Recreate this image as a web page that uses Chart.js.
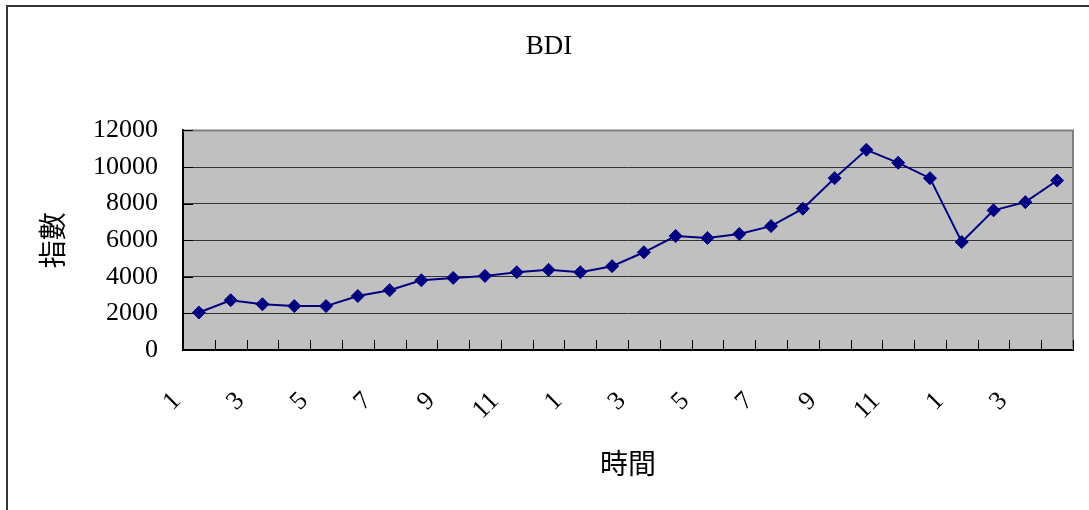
<!DOCTYPE html>
<html>
<head>
<meta charset="utf-8">
<title>BDI</title>
<script src="https://cdn.jsdelivr.net/npm/chart.js@4/dist/chart.umd.min.js"></script>
<style>
  html, body { margin: 0; padding: 0; background: #ffffff; }
  canvas { display: block; }
</style>
</head>
<body>
<canvas id="bdi" width="1089" height="510"></canvas>
<script>
// Month of each observation (three consecutive years, last one partial)
const months = ['1','2','3','4','5','6','7','8','9','10','11','12',
                '1','2','3','4','5','6','7','8','9','10','11','12',
                '1','2','3','4'];

// Baltic Dry Index, monthly level
const bdiValues = [2050, 2720, 2500, 2400, 2400, 2950, 3270, 3810, 3940, 4050, 4250, 4380,
                   4250, 4580, 5340, 6230, 6120, 6340, 6770, 7720, 9390, 10940, 10230, 9390,
                   5900, 7630, 8080, 9260];

const yMin = 0;
const yMax = 12000;
const yStep = 2000;

const titleText = 'BDI';
const yTitle = '指數';
const xTitle = '時間';

const serif = "'Liberation Serif', 'Times New Roman', 'Noto Sans CJK TC', serif";
const cjk = "'Noto Sans CJK TC', 'Noto Sans CJK SC', sans-serif";

// Grey plot background, outer frame, plot frame and inward tick marks
const framePlugin = {
  id: 'frame',
  beforeDraw(chart) {
    const { ctx, chartArea: a } = chart;
    ctx.save();
    ctx.fillStyle = '#ffffff';
    ctx.fillRect(0, 0, chart.width, chart.height);
    ctx.fillStyle = '#c0c0c0';
    ctx.fillRect(a.left, a.top, a.right - a.left, a.bottom - a.top);
    ctx.restore();
  },
  beforeDatasetsDraw(chart) {
    const { ctx, chartArea: a, scales } = chart;
    const x = scales.x, y = scales.y;
    ctx.save();
    // plot frame: grey top and right edges
    ctx.strokeStyle = '#808080';
    ctx.lineWidth = 2;
    ctx.beginPath();
    ctx.moveTo(a.left, a.top);
    ctx.lineTo(a.right, a.top);
    ctx.lineTo(a.right, a.bottom);
    ctx.stroke();
    // inward ticks
    ctx.strokeStyle = '#000000';
    ctx.lineWidth = 1;
    ctx.beginPath();
    const n = months.length;
    for (let i = 0; i <= n; i++) {
      let px;
      if (i === 0) px = a.left;
      else if (i === n) px = a.right;
      else px = (x.getPixelForValue(i - 1) + x.getPixelForValue(i)) / 2;
      px = Math.round(px) + 0.5;
      ctx.moveTo(px, a.bottom);
      ctx.lineTo(px, a.bottom - 10);
    }
    for (let v = yMin; v <= yMax; v += yStep) {
      const py = Math.round(y.getPixelForValue(v)) + 0.5;
      ctx.moveTo(a.left, py);
      ctx.lineTo(a.left + 10, py);
    }
    ctx.stroke();
    ctx.restore();
  },
  afterDraw(chart) {
    const { ctx } = chart;
    ctx.save();
    ctx.strokeStyle = '#333333';
    ctx.lineWidth = 2;
    ctx.beginPath();
    ctx.moveTo(7, chart.height);
    ctx.lineTo(7, 6);
    ctx.lineTo(chart.width, 6);
    ctx.stroke();
    ctx.restore();
  }
};

new Chart(document.getElementById('bdi'), {
  type: 'line',
  data: {
    labels: months,
    datasets: [{
      label: titleText,
      data: bdiValues,
      borderColor: '#000080',
      backgroundColor: '#000080',
      borderWidth: 2,
      tension: 0,
      pointStyle: 'rectRot',
      pointRadius: 6.5,
      pointHoverRadius: 6.5,
      pointBackgroundColor: '#000080',
      pointBorderColor: '#000080',
      pointBorderWidth: 1
    }]
  },
  options: {
    responsive: false,
    animation: false,
    events: [],
    layout: { padding: { left: 25, right: 16, top: 0, bottom: 0 } },
    plugins: {
      legend: { display: false },
      tooltip: { enabled: false },
      title: {
        display: true,
        text: titleText,
        color: '#000000',
        font: { family: serif, size: 27, weight: 'normal', lineHeight: 1.2 },
        padding: { top: 31, bottom: 67 }
      }
    },
    scales: {
      x: {
        type: 'category',
        offset: true,
        afterFit(scale) {
          scale.height = 160;
          scale.paddingLeft = 0;
          scale.paddingRight = 0;
        },
        grid: { display: false, drawTicks: false },
        border: { display: true, color: '#000000', width: 2 },
        ticks: {
          autoSkip: false,
          maxRotation: 45,
          minRotation: 45,
          padding: 36,
          labelOffset: -22,
          color: '#000000',
          font: { family: serif, size: 26 },
          callback(value, index) { return index % 2 === 0 ? months[index] : ''; }
        },
        title: {
          display: true,
          text: xTitle,
          color: '#000000',
          font: { family: cjk, size: 28, weight: 'normal', lineHeight: 1.2 },
          padding: { top: 0, bottom: 30 }
        }
      },
      y: {
        min: yMin,
        max: yMax,
        afterFit(scale) {
          scale.width = 158;
          scale.paddingTop = 0;
          scale.paddingBottom = 0;
        },
        grid: {
          drawTicks: false,
          lineWidth: 1,
          color(ctx) {
            return ctx.tick && ctx.tick.value === yMax ? 'rgba(0,0,0,0)' : '#333333';
          }
        },
        border: { display: true, color: '#000000', width: 2 },
        ticks: {
          stepSize: yStep,
          padding: 25,
          color: '#000000',
          font: { family: serif, size: 26 },
          callback(value) { return String(value); }
        },
        title: {
          display: true,
          text: yTitle,
          color: '#000000',
          font: { family: cjk, size: 28, weight: 'normal', lineHeight: 1.2 },
          padding: { top: 11, bottom: 0 }
        }
      }
    }
  },
  plugins: [framePlugin]
});
</script>
</body>
</html>
